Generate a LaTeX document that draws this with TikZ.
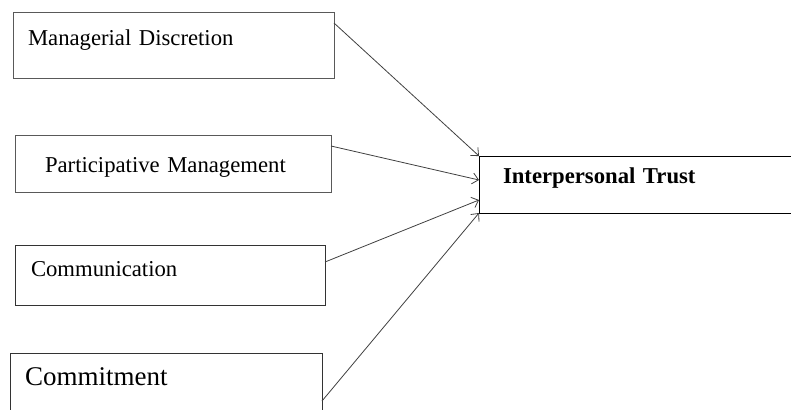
\documentclass[tikz,border=0pt]{standalone}
\usepackage{fontspec}
\setmainfont{Liberation Serif}
\usetikzlibrary{arrows.meta}

\tikzset{
  factor/.style={draw=black!65, line width=0.8pt, anchor=north west, align=left,
    inner ysep=0pt, outer sep=0pt, font=\fontsize{22.7}{27}\selectfont},
  link/.style={draw=black!75, line width=0.8pt,
    -{Straight Barb[length=6pt,width=11pt]}}
}

\begin{document}
\begin{tikzpicture}[x=1pt,y=-1pt]
  \useasboundingbox (0,0) rectangle (791,409);
  \clip (0,0) rectangle (791,409);

  % the four factors
  \node [factor, inner xsep=15pt, text width=291pt, text height=34pt,
    text depth=32pt] (md) at (13,12) {Managerial Discretion};

  \node [factor, inner xsep=30pt, text width=256pt, text height=37pt,
    text depth=20pt] (pm) at (15,135) {Participative Management};

  \node [factor, draw=black!80, inner xsep=16pt, text width=278pt,
    text height=31pt, text depth=29pt] (comm) at (15,245) {Communication};

  \node [factor, draw=black!80, inner xsep=15pt, text width=282pt,
    text height=32pt, text depth=33pt, font=\fontsize{27}{32}\selectfont]
    (commit) at (10,353) {Commitment};

  % outcome
  \node [factor, draw=black, inner xsep=24pt, text width=353pt,
    text height=27pt, text depth=30pt,
    font=\fontsize{22.7}{27}\selectfont\bfseries] (trust) at (479,156)
    {Interpersonal Trust};

  \draw [link] ([yshift=-11pt]md.north east) -- (trust.north west);
  \draw [link] ([yshift=-11pt]pm.north east) -- ([yshift=-24pt]trust.north west);
  \draw [link] ([yshift=-17pt]comm.north east) -- ([yshift=-44pt]trust.north west);
  \draw [link] ([yshift=-48pt]commit.north east) -- (trust.south west);
\end{tikzpicture}
\end{document}
